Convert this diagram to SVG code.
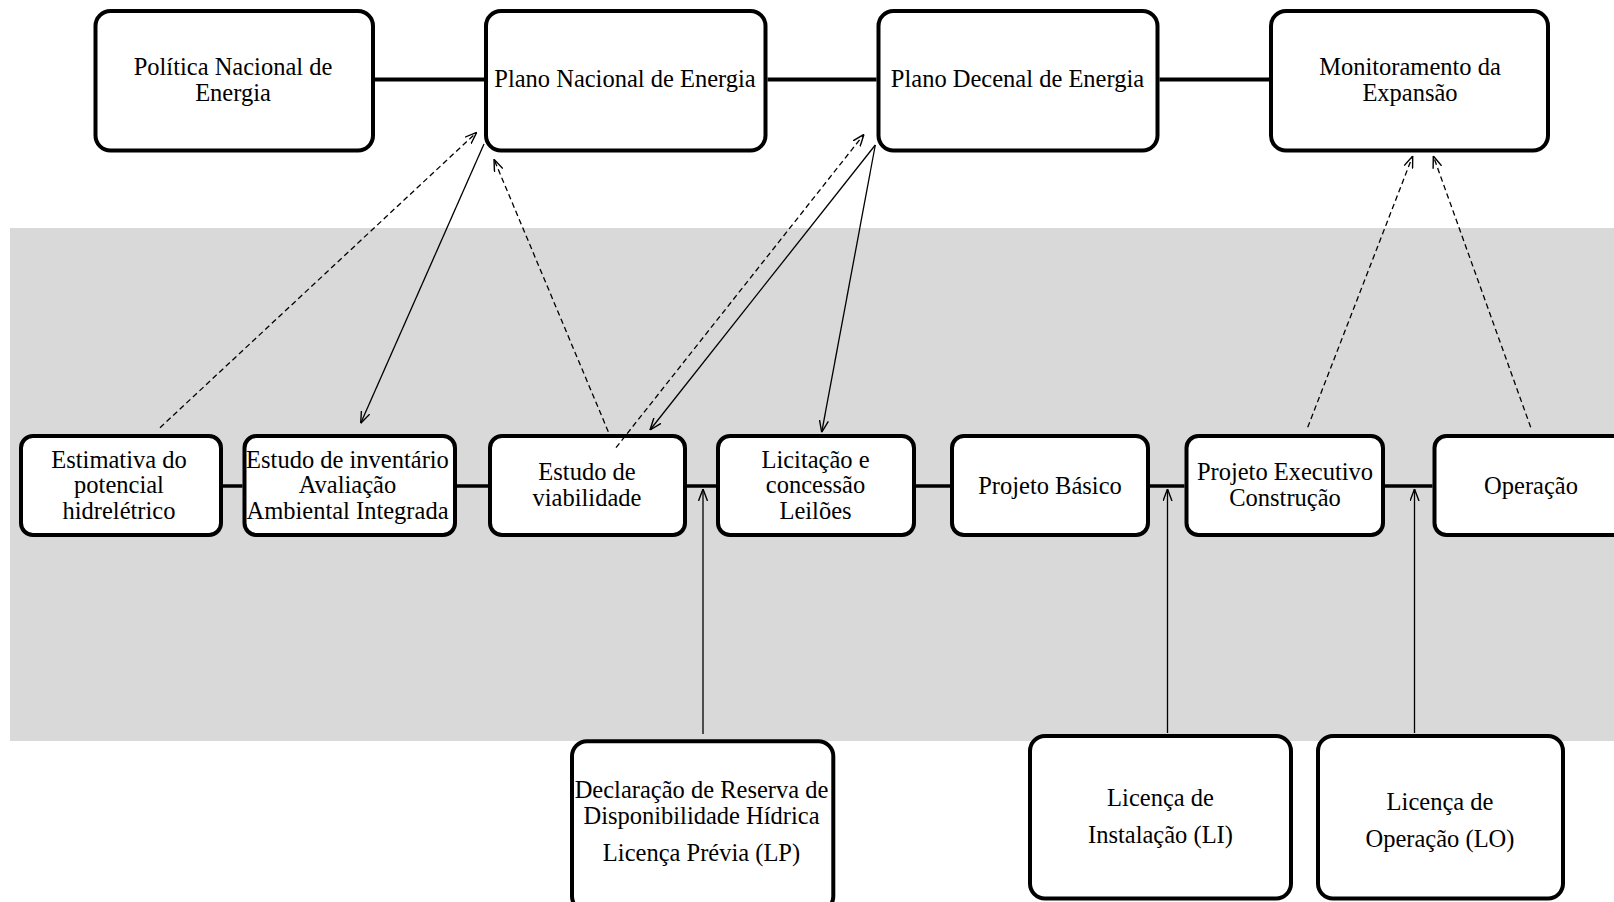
<svg xmlns="http://www.w3.org/2000/svg" width="1614" height="902" viewBox="0 0 1614 902">
<style>
.box{fill:#fff;stroke:#000;stroke-width:4}
.t{font-family:"Liberation Serif","Times New Roman",serif;font-size:24.5px;fill:#000;text-anchor:middle}
.thick{stroke:#000;stroke-width:4;fill:none}
.mid{stroke:#000;stroke-width:3.5;fill:none}
.thin{stroke:#000;stroke-width:1.3;fill:none;marker-end:url(#ah)}
.dash{stroke:#000;stroke-width:1.3;fill:none;stroke-dasharray:5.5 3.5;marker-end:url(#ah)}
</style>
<defs>
<marker id="ah" viewBox="0 0 12 10" refX="12" refY="5" markerWidth="12" markerHeight="10" markerUnits="userSpaceOnUse" orient="auto">
<path d="M0,0.5 L12,5 L0,9.5" fill="none" stroke="#000" stroke-width="1.4"/>
</marker>
</defs>
<rect width="1614" height="902" fill="#fff"/>
<rect id="band" x="10" y="228" width="1604" height="513" fill="#d9d9d9"/>

<g id="lines-thick">
<line class="thick" x1="375" y1="79.5" x2="484" y2="79.5"/>
<line class="thick" x1="767.5" y1="79.5" x2="876.5" y2="79.5"/>
<line class="thick" x1="1159.5" y1="79.5" x2="1269" y2="79.5"/>
<line class="mid" x1="223" y1="486" x2="242.5" y2="486"/>
<line class="mid" x1="457" y1="486" x2="488" y2="486"/>
<line class="mid" x1="687" y1="486" x2="716" y2="486"/>
<line class="mid" x1="916" y1="486" x2="950" y2="486"/>
<line class="mid" x1="1150" y1="486" x2="1184.5" y2="486"/>
<line class="mid" x1="1385" y1="486" x2="1432.5" y2="486"/>
</g>

<g id="n-politica">
<rect class="box" x="95.5" y="11" width="277.5" height="139.5" rx="15"/>
<text class="t" x="233" y="75">Política Nacional de</text>
<text class="t" x="233" y="100.5">Energia</text>
</g>
<g id="n-pne">
<rect class="box" x="486" y="11" width="279.5" height="139.5" rx="15"/>
<text class="t" x="625" y="87.3">Plano Nacional de Energia</text>
</g>
<g id="n-pde">
<rect class="box" x="878.5" y="11" width="279" height="139.5" rx="15"/>
<text class="t" x="1017.5" y="87.3">Plano Decenal de Energia</text>
</g>
<g id="n-monit">
<rect class="box" x="1271" y="11" width="277" height="139.5" rx="15"/>
<text class="t" x="1410" y="75">Monitoramento da</text>
<text class="t" x="1410" y="100.5">Expansão</text>
</g>

<g id="n-estimativa">
<rect class="box" x="21" y="436" width="200" height="99" rx="12"/>
<text class="t" x="119" y="467.5">Estimativa do</text>
<text class="t" x="119" y="493.2">potencial</text>
<text class="t" x="119" y="519">hidrelétrico</text>
</g>
<g id="n-inventario">
<rect class="box" x="244.5" y="436" width="210.5" height="99" rx="12"/>
<text class="t" x="347.5" y="467.5">Estudo de inventário</text>
<text class="t" x="347.5" y="493.2">Avaliação</text>
<text class="t" x="347.5" y="519">Ambiental Integrada</text>
</g>
<g id="n-viabilidade">
<rect class="box" x="490" y="436" width="195" height="99" rx="12"/>
<text class="t" x="587" y="480">Estudo de</text>
<text class="t" x="587" y="506">viabilidade</text>
</g>
<g id="n-licitacao">
<rect class="box" x="718" y="436" width="196" height="99" rx="12"/>
<text class="t" x="815.5" y="467.5">Licitação e</text>
<text class="t" x="815.5" y="493.2">concessão</text>
<text class="t" x="815.5" y="519">Leilões</text>
</g>
<g id="n-basico">
<rect class="box" x="952" y="436" width="196" height="99" rx="12"/>
<text class="t" x="1050" y="493.5">Projeto Básico</text>
</g>
<g id="n-executivo">
<rect class="box" x="1186.5" y="436" width="196.5" height="99" rx="12"/>
<text class="t" x="1285" y="480">Projeto Executivo</text>
<text class="t" x="1285" y="506">Construção</text>
</g>
<g id="n-operacao">
<rect class="box" x="1434.5" y="436" width="196" height="99" rx="12"/>
<text class="t" x="1531" y="493.5">Operação</text>
</g>

<g id="n-lp">
<rect class="box" x="572" y="741.3" width="261.3" height="170" rx="15"/>
<text class="t" x="701.5" y="798">Declaração de Reserva de</text>
<text class="t" x="701.5" y="823.5">Disponibilidade Hídrica</text>
<text class="t" x="701.5" y="860.5">Licença Prévia (LP)</text>
</g>
<g id="n-li">
<rect class="box" x="1030" y="736" width="261" height="162.5" rx="15"/>
<text class="t" x="1160.5" y="805.5">Licença de</text>
<text class="t" x="1160.5" y="842.5">Instalação (LI)</text>
</g>
<g id="n-lo">
<rect class="box" x="1318" y="736" width="245" height="162.5" rx="15"/>
<text class="t" x="1440" y="809.5">Licença de</text>
<text class="t" x="1440" y="846.5">Operação (LO)</text>
</g>

<g id="connectors">
<line class="dash" x1="160" y1="427.7" x2="476.7" y2="132.3"/>
<line class="thin" x1="484" y1="144" x2="360.7" y2="423.3"/>
<line class="dash" x1="608.3" y1="431.7" x2="494" y2="159.3"/>
<line class="dash" x1="616" y1="447.7" x2="864" y2="134.3"/>
<line class="thin" x1="875.3" y1="145" x2="650" y2="430"/>
<line class="thin" x1="875.3" y1="145" x2="821.7" y2="432.3"/>
<line class="dash" x1="1307.7" y1="427.3" x2="1412.7" y2="156"/>
<line class="dash" x1="1530.7" y1="427.3" x2="1433.3" y2="156"/>
<line class="thin" x1="703" y1="734" x2="703" y2="489"/>
<line class="thin" x1="1167.5" y1="733" x2="1167.5" y2="489"/>
<line class="thin" x1="1414.5" y1="733" x2="1414.5" y2="489"/>
</g>
</svg>
